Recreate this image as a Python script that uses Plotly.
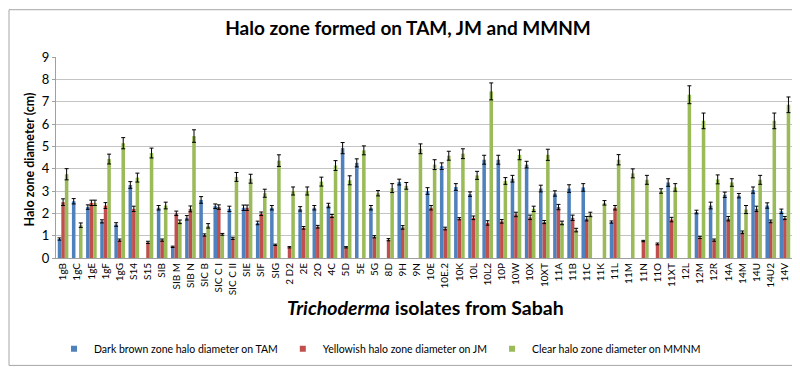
import plotly.graph_objects as go

categories = ["1gB", "1gC", "1gE", "1gF", "1gG", "S14", "S15", "SIB", "SIB M", "SIB N",
              "SIC B", "SIC C I", "SIC C II", "SIE", "SIF", "SIG", "2 D2", "2E", "2O", "4C",
              "5D", "5E", "5G", "8D", "9H", "9N", "10E", "10E.2", "10K", "10L",
              "10L2", "10P", "10W", "10X", "10XT", "11A", "11B", "11C", "11K", "11L",
              "11M", "11N", "11O", "11XT", "12L", "12M", "12R", "14A", "14M", "14U",
              "14U2", "14V"]

tam = [0.85, 2.54, 2.28, 1.64, 1.50, 3.27, None, 2.25, 0.50, 1.80,
       2.60, 2.32, 2.20, 2.25, 1.57, 2.25, None, 2.20, 2.25, 2.35,
       4.92, 4.26, 2.25, None, 3.40, None, 3.00, 4.11, 3.18, 2.86,
       4.40, 4.40, 3.55, 4.18, 3.11, 2.89, 3.11, 3.16, None, 1.61,
       None, None, None, 3.38, None, 2.06, 2.35, 2.83, 2.79, 3.04,
       2.35, 2.09]
tam_err = [0.05, 0.12, 0.10, 0.07, 0.08, 0.15, None, 0.10, 0.03, 0.10,
           0.15, 0.10, 0.12, 0.12, 0.08, 0.10, None, 0.10, 0.10, 0.10,
           0.25, 0.18, 0.10, None, 0.13, None, 0.15, 0.15, 0.15, 0.10,
           0.20, 0.20, 0.15, 0.15, 0.15, 0.12, 0.17, 0.17, None, 0.05,
           None, None, None, 0.17, None, 0.08, 0.15, 0.12, 0.10, 0.14,
           0.12, 0.10]

jm = [2.50, None, 2.47, 2.35, 0.80, 2.20, 0.70, 0.80, 2.00, 2.20,
      1.03, 2.28, 0.88, 2.25, 1.98, 0.59, 0.48, 1.35, 1.40, 1.88,
      0.48, None, 0.95, 0.82, 1.37, None, 2.25, 1.32, 1.76, 1.80,
      1.57, 1.64, 1.95, 1.82, 1.61, 2.28, 1.80, 1.76, None, 2.25,
      None, 0.76, 0.63, 1.72, None, 0.92, 0.80, 1.76, 1.15, 2.20,
      1.64, 1.79]
jm_err = [0.15, None, 0.12, 0.13, 0.05, 0.12, 0.05, 0.05, 0.10, 0.13,
          0.05, 0.10, 0.05, 0.12, 0.08, 0.03, 0.03, 0.06, 0.06, 0.07,
          0.03, None, 0.05, 0.05, 0.08, None, 0.10, 0.06, 0.05, 0.08,
          0.10, 0.08, 0.10, 0.10, 0.07, 0.12, 0.12, 0.10, None, 0.10,
          None, 0.03, 0.04, 0.10, None, 0.05, 0.05, 0.10, 0.06, 0.12,
          0.06, 0.07]

mmnm = [3.75, 1.47, 2.47, 4.43, 5.14, 3.60, 4.70, 2.35, 1.62, 5.46,
        1.44, 1.06, 3.63, 3.55, 2.90, 4.36, 3.00, 3.00, 3.42, 4.14,
        3.48, 4.82, 2.90, 3.13, 3.23, 4.89, 4.18, 4.58, 4.67, 3.70,
        7.46, 3.45, 4.62, 2.20, 4.62, 1.57, 1.25, 1.95, 2.47, 4.40,
        3.79, 3.50, 3.00, 3.16, 7.31, 6.14, 3.52, 3.38, 2.17, 3.50,
        6.14, 6.86]
mmnm_err = [0.25, 0.10, 0.12, 0.22, 0.25, 0.20, 0.22, 0.15, 0.08, 0.28,
            0.10, 0.04, 0.20, 0.20, 0.18, 0.26, 0.18, 0.18, 0.20, 0.22,
            0.20, 0.20, 0.12, 0.20, 0.15, 0.22, 0.22, 0.20, 0.22, 0.18,
            0.38, 0.15, 0.22, 0.12, 0.25, 0.08, 0.08, 0.10, 0.10, 0.23,
            0.20, 0.20, 0.10, 0.17, 0.40, 0.35, 0.20, 0.17, 0.18, 0.20,
            0.35, 0.35]

series = [
    ("Dark brown zone halo diameter on TAM", tam, tam_err, "#4F81BD"),
    ("Yellowish halo zone diameter on JM", jm, jm_err, "#C0504D"),
    ("Clear halo zone diameter on MMNM", mmnm, mmnm_err, "#9BBB59"),
]

FONT = "Lato"
fig = go.Figure()
for name, vals, errs, col in series:
    fig.add_trace(go.Bar(
        x=categories, y=vals, name=name, marker_color=col, marker_line_width=0,
        showlegend=False,
        error_y=dict(type="data", array=errs, visible=True, color="#000000",
                     thickness=1, width=2),
    ))
# legend entries with small square keys
for name, vals, errs, col in series:
    fig.add_trace(go.Scatter(
        x=[None], y=[None], mode="markers", name=name,
        marker=dict(symbol="square", size=6, color=col),
    ))

L, R, T, B = 48, 16, 49, 114
W, H = 800, 367
pw, ph = W - L - R, H - T - B

def px(xpix):
    return (xpix - L) / pw

def py(ypix):
    return (H - B - ypix) / ph

fig.update_layout(
    width=W, height=H,
    margin=dict(l=L, r=R, t=T, b=B),
    paper_bgcolor="white", plot_bgcolor="white",
    font=dict(family=FONT, color="#000000"),
    barmode="group", bargap=0.25, bargroupgap=0,
    title=dict(text="<b>Halo zone formed on TAM, JM and MMNM</b>",
               x=0.5, xanchor="center", y=1 - 20 / H, yanchor="middle",
               font=dict(size=19, family=FONT)),
    xaxis=dict(tickangle=-90, tickfont=dict(size=10, family=FONT),
               showline=True, linecolor="#A0A0A0", ticks="", showgrid=False,
               automargin=False),
    yaxis=dict(range=[0, 9], dtick=1, tickfont=dict(size=13, family=FONT),
               showgrid=True, gridcolor="#C4C4C4", gridwidth=1,
               showline=True, linecolor="#A0A0A0", zeroline=False,
               ticks="outside", ticklen=3, tickcolor="#A0A0A0", automargin=False),
    legend=dict(orientation="h", x=px(46), xanchor="left", y=py(345), yanchor="middle",
                font=dict(size=10.5, family=FONT),
                itemwidth=30, bgcolor="rgba(0,0,0,0)"),
    showlegend=True,
    annotations=[
        dict(text="<b><i>Trichoderma</i> isolates from Sabah</b>", xref="paper", yref="paper",
             x=px(417), y=py(303), xanchor="center", yanchor="middle", showarrow=False,
             font=dict(size=19.5, family=FONT)),
        dict(text="<b>Halo zone diameter (cm)</b>", xref="paper", yref="paper",
             x=px(21), y=py(153), xanchor="center", yanchor="middle", textangle=-90,
             showarrow=False, font=dict(size=12.5, family=FONT)),
    ],
    shapes=[dict(type="rect", xref="paper", yref="paper",
                 x0=px(1), x1=px(797), y0=py(362), y1=py(1),
                 line=dict(color="#A6A6A6", width=1), fillcolor="rgba(0,0,0,0)", layer="below")],
)

fig.write_html("out.html")
